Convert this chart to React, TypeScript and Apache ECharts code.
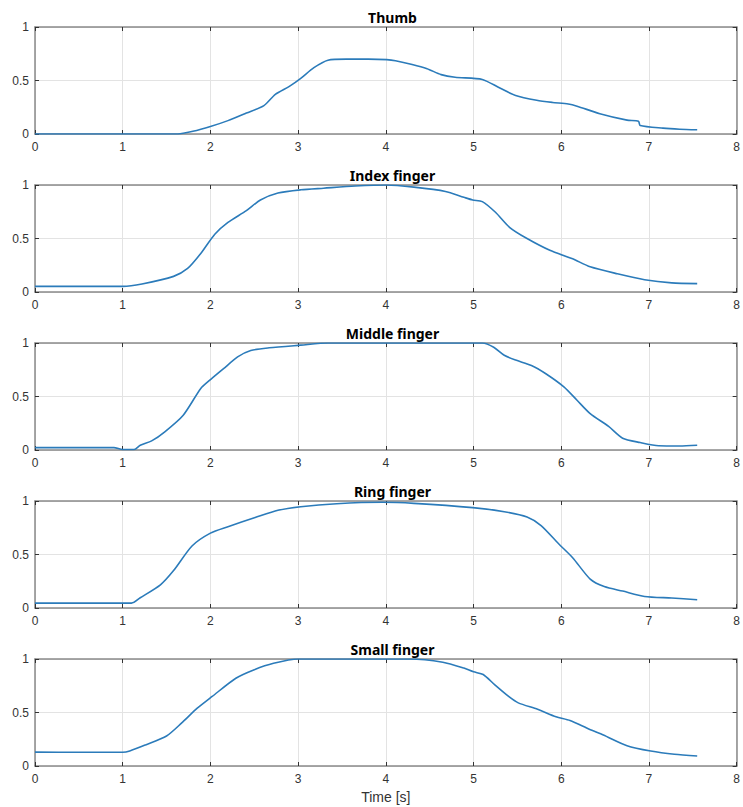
import React, { useEffect, useRef } from "react";
import * as echarts from "echarts";

const titles = ["Thumb", "Index finger", "Middle finger", "Ring finger", "Small finger"];

const thumbT = [0, 0.5, 1.0, 1.4, 1.63, 1.8, 2.0, 2.2, 2.41, 2.61, 2.74, 2.9, 3.03, 3.18, 3.34, 3.55, 3.8, 4.01, 4.11, 4.3, 4.47, 4.63, 4.79, 5.1, 5.3, 5.48, 5.72, 5.9, 6.08, 6.18, 6.44, 6.75, 6.88, 6.9, 7.16, 7.35, 7.55];
const thumbV = [0, 0, 0, 0, 0, 0.025, 0.07, 0.125, 0.196, 0.265, 0.37, 0.445, 0.52, 0.62, 0.69, 0.7, 0.7, 0.695, 0.685, 0.65, 0.61, 0.555, 0.53, 0.51, 0.43, 0.36, 0.315, 0.295, 0.28, 0.26, 0.19, 0.13, 0.12, 0.08, 0.055, 0.045, 0.04];

const indexT = [0, 0.5, 1.0, 1.22, 1.58, 1.74, 1.89, 2.05, 2.2, 2.41, 2.57, 2.77, 3.03, 3.29, 3.65, 4.01, 4.32, 4.68, 4.89, 4.99, 5.1, 5.25, 5.41, 5.61, 5.87, 6.13, 6.33, 6.64, 6.95, 7.26, 7.55];
const indexV = [0.053, 0.053, 0.053, 0.075, 0.146, 0.22, 0.36, 0.54, 0.65, 0.76, 0.86, 0.925, 0.955, 0.97, 0.99, 1.0, 0.98, 0.94, 0.885, 0.86, 0.845, 0.745, 0.605, 0.5, 0.39, 0.31, 0.235, 0.17, 0.115, 0.085, 0.078];

const middleT = [0, 0.5, 0.9, 1.0, 1.13, 1.2, 1.33, 1.48, 1.69, 1.89, 1.99, 2.15, 2.31, 2.46, 2.67, 3.03, 3.34, 4.0, 4.6, 5.1, 5.23, 5.35, 5.48, 5.66, 5.82, 6.03, 6.18, 6.33, 6.54, 6.7, 6.9, 7.11, 7.35, 7.55];
const middleV = [0.022, 0.022, 0.022, 0.005, 0.005, 0.045, 0.085, 0.17, 0.325, 0.575, 0.65, 0.76, 0.87, 0.93, 0.955, 0.98, 1.0, 1.0, 1.0, 1.0, 0.96, 0.885, 0.84, 0.79, 0.715, 0.59, 0.465, 0.34, 0.22, 0.11, 0.07, 0.04, 0.038, 0.045];

const ringT = [0, 0.5, 1.1, 1.2, 1.43, 1.58, 1.79, 2.0, 2.2, 2.51, 2.77, 3.03, 3.44, 3.96, 4.32, 4.99, 5.35, 5.61, 5.77, 5.97, 6.13, 6.33, 6.49, 6.7, 6.95, 7.26, 7.55];
const ringV = [0.046, 0.046, 0.046, 0.096, 0.217, 0.35, 0.58, 0.7, 0.76, 0.845, 0.913, 0.947, 0.975, 0.988, 0.978, 0.938, 0.9, 0.85, 0.77, 0.6, 0.47, 0.27, 0.2, 0.158, 0.108, 0.093, 0.077];

const smallT = [0, 0.5, 1.0, 1.08, 1.26, 1.5, 1.67, 1.85, 2.02, 2.29, 2.5, 2.72, 3.0, 3.6, 4.27, 4.65, 4.89, 5.0, 5.11, 5.24, 5.4, 5.51, 5.73, 5.94, 6.1, 6.32, 6.48, 6.75, 7.02, 7.29, 7.55];
const smallV = [0.13, 0.128, 0.128, 0.14, 0.197, 0.28, 0.4, 0.54, 0.65, 0.82, 0.9, 0.96, 1.0, 1.0, 1.0, 0.97, 0.915, 0.88, 0.855, 0.76, 0.65, 0.59, 0.53, 0.46, 0.425, 0.344, 0.29, 0.19, 0.14, 0.11, 0.094];

const seriesT = [thumbT, indexT, middleT, ringT, smallT];
const seriesV = [thumbV, indexV, middleV, ringV, smallV];

const gridTops = [27, 185, 343, 501, 659];
const gridH = 107;
const gridLeft = 35;
const gridW = 705;

const FONT = "Liberation Sans";
const boxLine = { show: true, onZero: false, lineStyle: { color: "#8a8a8a", width: 1.5 } };
const tickIn = { show: true, inside: true, length: 4, lineStyle: { color: "#333", width: 1 } };

export default function App() {
  const ref = useRef<HTMLDivElement>(null);
  useEffect(() => {
    if (!ref.current) return;
    const chart = echarts.init(ref.current, undefined, { renderer: "svg" });
    const grid: any[] = [];
    const xAxis: any[] = [];
    const yAxis: any[] = [];
    const series: any[] = [];
    const title: any[] = [];
    titles.forEach((name, i) => {
      grid.push({ left: gridLeft, top: gridTops[i], width: gridW, height: gridH });
      title.push({
        text: name,
        left: gridLeft + gridW / 2,
        top: gridTops[i] - 22,
        textAlign: "center",
        textStyle: { fontFamily: "Noto Sans", fontWeight: "bold", fontSize: 14, color: "#000" },
      });
      xAxis.push({
        type: "value", gridIndex: i, min: 0, max: 8, interval: 1, position: "bottom",
        axisLine: boxLine, axisTick: tickIn,
        axisLabel: { color: "#333", fontFamily: FONT, fontSize: 12, margin: 7, formatter: (v: number) => String(v) },
        splitLine: { show: true, lineStyle: { color: "#e3e3e3", width: 1 } },
        name: i === 4 ? "Time [s]" : "",
        nameLocation: "middle", nameGap: 24,
        nameTextStyle: { color: "#333", fontFamily: FONT, fontSize: 14 },
      });
      xAxis.push({
        type: "value", gridIndex: i, min: 0, max: 8, interval: 1, position: "top",
        axisLine: boxLine, axisTick: tickIn, axisLabel: { show: false }, splitLine: { show: false },
      });
      yAxis.push({
        type: "value", gridIndex: i, min: 0, max: 1, interval: 0.5, position: "left",
        axisLine: boxLine, axisTick: tickIn,
        axisLabel: { color: "#333", fontFamily: FONT, fontSize: 12, margin: 6, formatter: (v: number) => String(v) },
        splitLine: { show: true, lineStyle: { color: "#e3e3e3", width: 1 } },
      });
      yAxis.push({
        type: "value", gridIndex: i, min: 0, max: 1, interval: 0.5, position: "right",
        axisLine: boxLine, axisTick: tickIn, axisLabel: { show: false }, splitLine: { show: false },
      });
      series.push({
        type: "line",
        xAxisIndex: i * 2,
        yAxisIndex: i * 2,
        data: seriesT[i].map((t, k) => [t, seriesV[i][k]]),
        showSymbol: false,
        smooth: 0.25,
        lineStyle: { color: "#2b7bba", width: 1.6 },
      });
    });
    chart.setOption({ animation: false, backgroundColor: "#fff", title, grid, xAxis, yAxis, series });
    return () => chart.dispose();
  }, []);
  return <div ref={ref} style={{ position: "absolute", left: 0, top: 0, width: 743, height: 807 }} />;
}
